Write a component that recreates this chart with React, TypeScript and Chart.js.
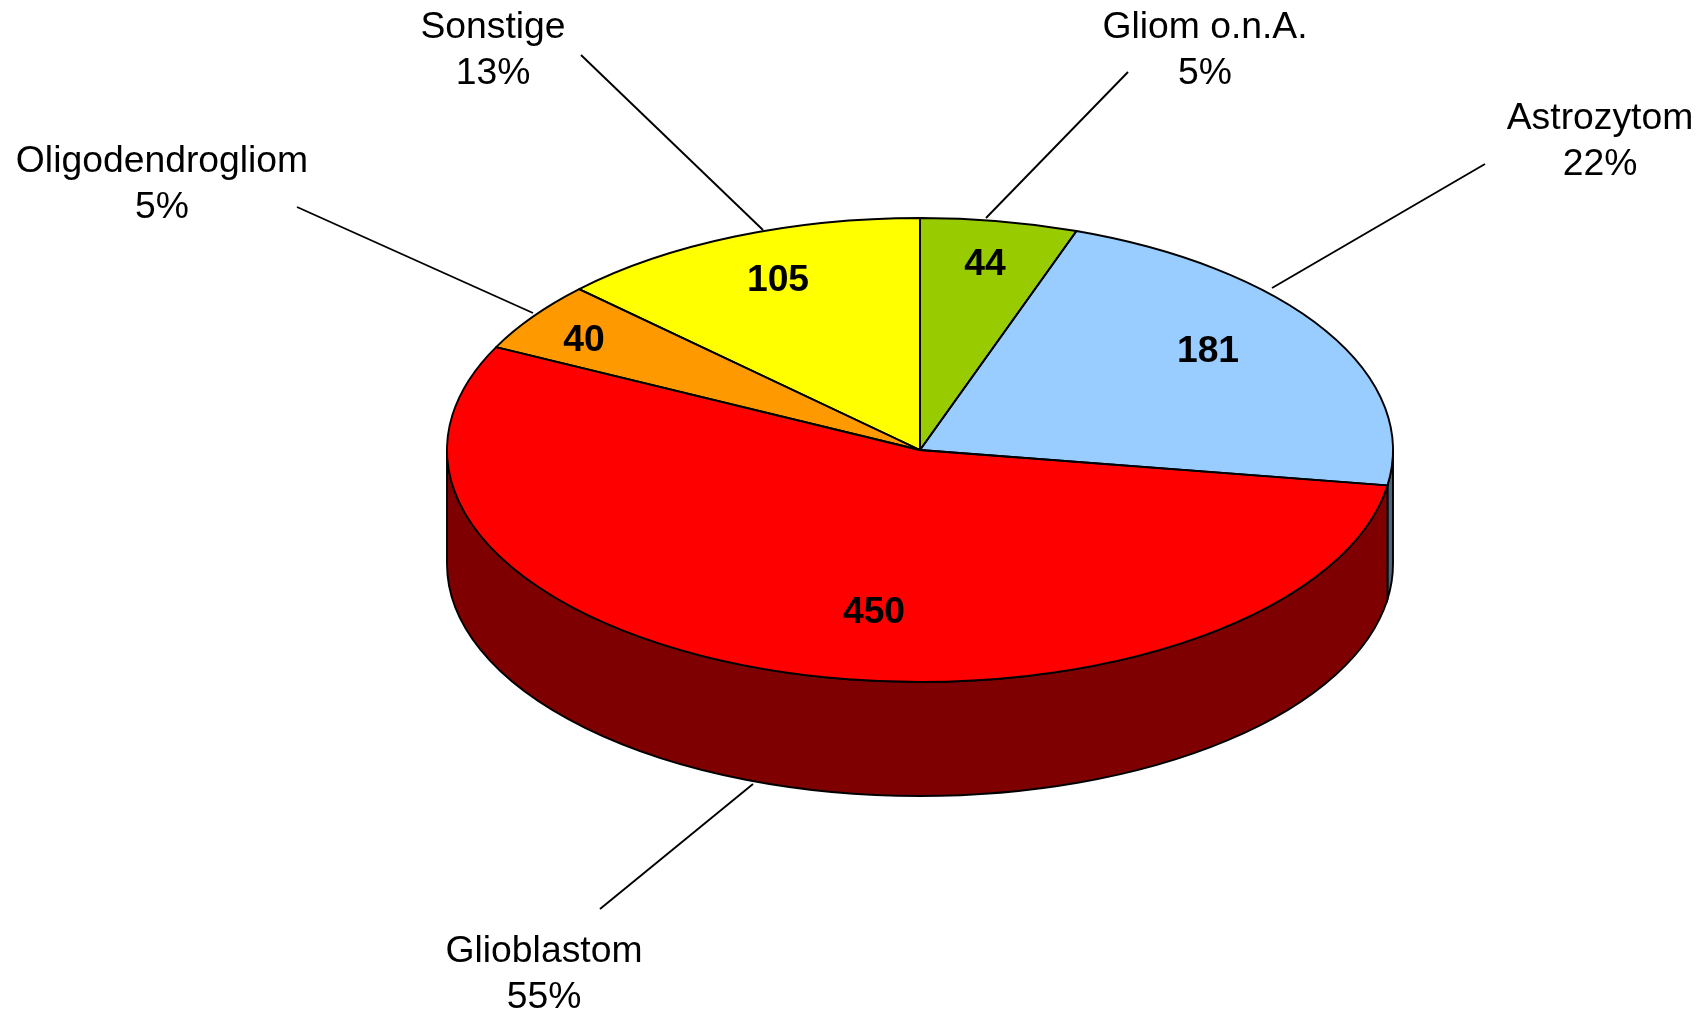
import React, { useEffect, useRef } from "react";
import { Chart, registerables } from "chart.js";

Chart.register(...registerables);

const categories = ["Gliom o.n.A.", "Astrozytom", "Glioblastom", "Oligodendrogliom", "Sonstige"];
const values = [44, 181, 450, 40, 105];
const topColors = ["#99CC00", "#99CCFF", "#FF0000", "#FF9900", "#FFFF00"];
const sideColors = ["#4C6600", "#4C667F", "#7F0000", "#7F4C00", "#7F7F00"];

const WIDTH = 1702;
const HEIGHT = 1011;
const CX = 920;
const CY = 450;
const RY = 232;
const DEPTH = 114;
const FONT = '"Liberation Sans", Arial, sans-serif';
const FONT_SIZE = 37.3;
const LINE_GAP = 45.6;
const STROKE = 1.9;

// Layout of the annotations, in the order of the categories.
const valueAnchors = [
  [985, 265],
  [1208, 352],
  [874, 613],
  [584, 341],
  [778, 281],
];
const nameAnchors = [
  [1205, 28],
  [1600, 119],
  [544, 952],
  [162, 162],
  [493, 28],
];
const leaders = [
  [1128, 72, 986, 218],
  [1485, 164, 1272, 288],
  [600, 909, 753, 784],
  [297, 207, 533, 313],
  [581, 55, 763, 230],
];

const total = values.reduce((a, b) => a + b, 0);

const pie3d = {
  id: "pie3d",
  beforeDatasetsDraw(chart: any) {
    const ctx = chart.ctx;
    const arcs = chart.getDatasetMeta(0).data;
    const place = (el: any, dy: number) => {
      ctx.translate(CX, CY + dy);
      ctx.scale(1, RY / el.outerRadius);
      ctx.translate(-el.x, -el.y);
    };
    arcs.forEach((el: any, i: number) => {
      const lo = Math.max(el.startAngle, 0);
      const hi = Math.min(el.endAngle, Math.PI);
      if (lo >= hi) return;
      ctx.beginPath();
      ctx.save();
      place(el, 0);
      ctx.arc(el.x, el.y, el.outerRadius, lo, hi);
      ctx.restore();
      ctx.save();
      place(el, DEPTH);
      ctx.arc(el.x, el.y, el.outerRadius, hi, lo, true);
      ctx.restore();
      ctx.closePath();
      ctx.fillStyle = sideColors[i];
      ctx.fill();
      ctx.lineWidth = STROKE;
      ctx.strokeStyle = "#000000";
      ctx.stroke();
    });
    ctx.save();
    const first = arcs[0];
    place(first, 0);
  },
  afterDatasetsDraw(chart: any) {
    const ctx = chart.ctx;
    ctx.restore();
    const arcs = chart.getDatasetMeta(0).data;
    arcs.forEach((el: any) => {
      ctx.beginPath();
      ctx.save();
      ctx.translate(CX, CY);
      ctx.scale(1, RY / el.outerRadius);
      ctx.translate(-el.x, -el.y);
      ctx.moveTo(el.x, el.y);
      ctx.arc(el.x, el.y, el.outerRadius, el.startAngle, el.endAngle);
      ctx.closePath();
      ctx.restore();
      ctx.lineWidth = STROKE;
      ctx.lineJoin = "round";
      ctx.strokeStyle = "#000000";
      ctx.stroke();
    });

    ctx.save();
    ctx.fillStyle = "#000000";
    ctx.strokeStyle = "#000000";
    ctx.textAlign = "center";
    ctx.textBaseline = "middle";
    categories.forEach((name, i) => {
      const [x1, y1, x2, y2] = leaders[i];
      ctx.beginPath();
      ctx.moveTo(x1, y1);
      ctx.lineTo(x2, y2);
      ctx.lineWidth = STROKE;
      ctx.stroke();

      ctx.font = `${FONT_SIZE}px ${FONT}`;
      const [nx, ny] = nameAnchors[i];
      ctx.fillText(name, nx, ny);
      ctx.fillText(`${Math.round((values[i] / total) * 100)}%`, nx, ny + LINE_GAP);

      ctx.font = `bold ${FONT_SIZE}px ${FONT}`;
      const [vx, vy] = valueAnchors[i];
      ctx.fillText(String(values[i]), vx, vy);
    });
    ctx.restore();
  },
};

export default function App() {
  const ref = useRef<HTMLCanvasElement | null>(null);
  useEffect(() => {
    if (!ref.current) return;
    const chart = new Chart(ref.current, {
      type: "pie",
      data: {
        labels: categories,
        datasets: [
          {
            data: values,
            backgroundColor: topColors,
            borderWidth: 0,
            clip: false,
          } as any,
        ],
      },
      options: {
        animation: false,
        responsive: false,
        devicePixelRatio: 1,
        layout: { padding: { left: CX - 473, right: WIDTH - CX - 473, top: 32, bottom: 33 } },
        plugins: { legend: { display: false }, tooltip: { enabled: false } },
      },
      plugins: [pie3d],
    });
    return () => chart.destroy();
  }, []);
  return (
    <div style={{ position: "absolute", left: 0, top: 0, width: WIDTH, height: HEIGHT, overflow: "hidden", background: "#fff" }}>
      <canvas ref={ref} width={WIDTH} height={HEIGHT} style={{ display: "block" }} />
    </div>
  );
}
